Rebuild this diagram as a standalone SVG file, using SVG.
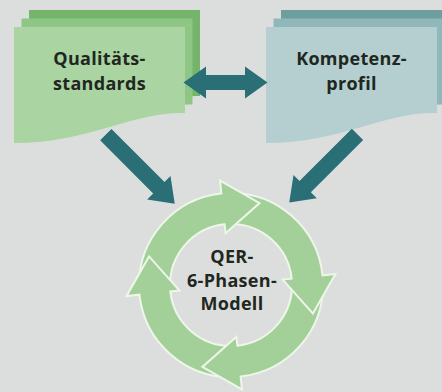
<svg xmlns="http://www.w3.org/2000/svg" xmlns:xlink="http://www.w3.org/1999/xlink" width="442" height="392" viewBox="0 0 442 392">
  <style>
    .lbl { font-family: "Open Sans", "DejaVu Sans", sans-serif; font-weight: 700; font-size: 18px; fill: #1f2721; text-anchor: middle; letter-spacing: 0.3px; }
    .ring { fill: #a2d098; stroke: #eef6ea; stroke-width: 2; stroke-linejoin: miter; }
    .conn { fill: #2a6e76; }
  </style>
  <defs>
    <path id="doc" d="M0,0 H171 V86 C116,85 76,116 0,116 Z"/>
    <path id="arr" d="M139.01,286.61 A92,92 0 0,1 221.38,193.50 L220.02,180.58 L259.59,203.06 L225.56,233.28 L224.62,224.33 A61,61 0 0,0 170.01,286.06 Z"/>
    <clipPath id="headclip" clipPathUnits="userSpaceOnUse">
      <rect x="105" y="235" width="95" height="65"/>
    </clipPath>
  </defs>
  <rect width="442" height="392" fill="#dcdedd"/>

  <g id="doc-qualitaetsstandards">
    <use xlink:href="#doc" href="#doc" transform="translate(29,10)" fill="#74b56b"/>
    <use xlink:href="#doc" href="#doc" transform="translate(21.5,18.5)" fill="#8ec685"/>
    <use xlink:href="#doc" href="#doc" transform="translate(14,27)" fill="#aad4a1"/>
    <text class="lbl" x="99.5" y="65">Qualitäts-</text>
    <text class="lbl" x="99.5" y="90">standards</text>
  </g>

  <g id="doc-kompetenzprofil">
    <use xlink:href="#doc" href="#doc" transform="translate(281,10)" fill="#6f9ea1"/>
    <use xlink:href="#doc" href="#doc" transform="translate(273.5,18.5)" fill="#90b7b9"/>
    <use xlink:href="#doc" href="#doc" transform="translate(266,27)" fill="#b5cfd0"/>
    <text class="lbl" x="351.5" y="65">Kompetenz-</text>
    <text class="lbl" x="351.5" y="90">profil</text>
  </g>

  <g id="connectors">
    <polygon class="conn" points="183.5,82.5 206,66.5 206,75 245,75 245,66.5 267.5,82.5 245,98.5 245,90 206,90 206,98.5"/>
    <polygon class="conn" points="111.46,129.04 164.49,182.07 170.50,176.06 174.74,203.64 147.16,199.40 153.17,193.39 100.14,140.36"/>
    <polygon class="conn" points="351.84,128.64 299.51,180.97 293.50,174.96 289.26,202.54 316.84,198.30 310.83,192.29 363.16,139.96"/>
  </g>

  <g id="cycle-qer-6-phasen-modell">
    <use class="ring" xlink:href="#arr" href="#arr" transform="rotate(270 231 285)"/>
    <use class="ring" xlink:href="#arr" href="#arr" transform="rotate(180 231 285)"/>
    <use class="ring" xlink:href="#arr" href="#arr" transform="rotate(90 231 285)"/>
    <use class="ring" xlink:href="#arr" href="#arr"/>
    <g clip-path="url(#headclip)">
      <use class="ring" xlink:href="#arr" href="#arr" transform="rotate(270 231 285)"/>
    </g>
    <text class="lbl" x="232" y="263">QER-</text>
    <text class="lbl" x="232" y="286.5">6-Phasen-</text>
    <text class="lbl" x="232" y="310">Modell</text>
  </g>
</svg>
